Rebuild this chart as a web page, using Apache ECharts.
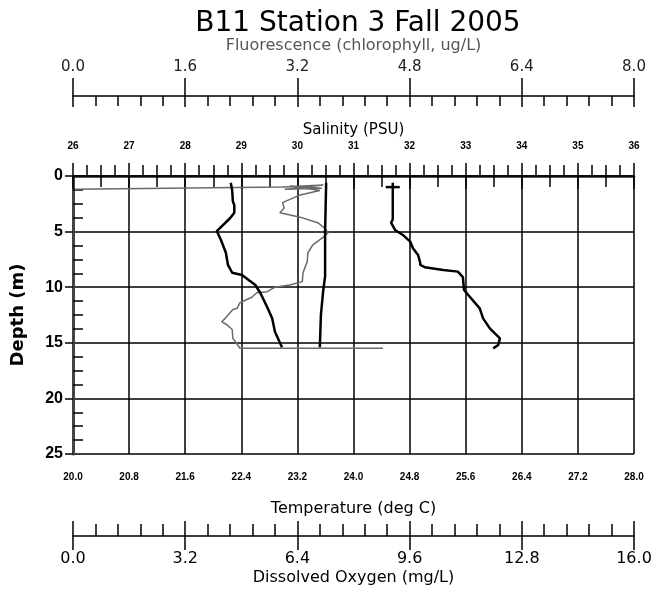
<!DOCTYPE html>
<html>
<head>
<meta charset="utf-8">
<script src="https://cdn.jsdelivr.net/npm/echarts@6/dist/echarts.min.js"></script>
<style>
  html, body { margin: 0; padding: 0; background: #fff; }
  #main { width: 656px; height: 598px; }
</style>
</head>
<body>
<div id="main"></div>
<script>
// profile data, [value, depth m]
var temperature = [
  [22.25, 0.6], [22.27, 1.3], [22.28, 2.3], [22.30, 2.6], [22.30, 3.3], [22.24, 3.8],
  [22.05, 4.95], [22.11, 5.75], [22.18, 6.9], [22.21, 8.0], [22.27, 8.7], [22.41, 8.9],
  [22.60, 9.8], [22.67, 10.5], [22.77, 11.8], [22.84, 12.8], [22.88, 14.0], [22.98, 15.4]
];
var salinity = [
  [31.70, 0.6], [31.70, 1.0], [31.70, 2.5], [31.70, 3.9], [31.67, 4.2], [31.74, 4.85],
  [31.88, 5.3], [32.01, 5.9], [32.06, 6.5], [32.15, 7.1], [32.19, 7.8], [32.19, 8.0],
  [32.27, 8.2], [32.60, 8.45], [32.86, 8.6], [32.95, 9.1], [32.97, 10.25], [33.08, 10.9],
  [33.25, 11.9], [33.31, 12.8], [33.43, 13.7], [33.61, 14.6], [33.58, 15.2], [33.49, 15.5]
];
var fluorescence = [
  [0.03, 1.2], [2.99, 1.0], [3.57, 0.8], [3.02, 1.2], [3.55, 1.1], [3.09, 0.9], [3.52, 1.3],
  [3.24, 1.7], [3.02, 2.3], [2.99, 2.4], [3.01, 2.9], [2.95, 3.3], [3.24, 3.7], [3.49, 4.2],
  [3.59, 4.7], [3.64, 5.1], [3.57, 5.5], [3.42, 6.2], [3.35, 6.9], [3.34, 7.7], [3.28, 8.7],
  [3.27, 9.5], [3.09, 9.8], [2.88, 10.0], [2.77, 10.4], [2.62, 10.5], [2.55, 10.9],
  [2.38, 11.4], [2.34, 11.9], [2.28, 12.0], [2.17, 12.8], [2.12, 13.1], [2.20, 13.4],
  [2.27, 13.8], [2.28, 14.6], [2.35, 15.2], [2.38, 15.5], [4.42, 15.5]
];
var oxygen = [
  [7.22, 0.6], [7.19, 5.0], [7.19, 9.0], [7.13, 10.5], [7.07, 12.5], [7.04, 15.4]
];

var black = '#000';
var font = 'DejaVu Sans';

function fixed1(v) { return v.toFixed(1); }

var myChart = echarts.init(document.getElementById('main'));
myChart.setOption({
  backgroundColor: '#fff',
  animation: false,
  title: {
    text: 'B11 Station 3 Fall 2005',
    left: 353, top: 5, textAlign: 'center',
    textStyle: { fontFamily: font, fontSize: 28, fontWeight: 'normal', color: black }
  },
  grid: { left: 73, right: 22, top: 176, bottom: 144 },
  xAxis: [
    { // 0 temperature
      type: 'value', position: 'bottom', min: 20, max: 28, interval: 0.8,
      name: 'Temperature (deg C)', nameLocation: 'middle', nameGap: 47,
      nameTextStyle: { fontFamily: font, fontSize: 16, color: black },
      axisLine: { lineStyle: { color: '#222', width: 2.5 } },
      axisTick: { length: 13, lineStyle: { color: black, width: 1.5 } },
      axisLabel: { formatter: fixed1, margin: 18, fontFamily: 'Liberation Sans', fontSize: 10, fontWeight: 'bold', color: black },
      splitLine: { show: false }
    },
    { // 1 temperature minor ticks
      type: 'value', position: 'bottom', min: 20, max: 28, interval: 0.8,
      axisLine: { show: false }, axisLabel: { show: false }, splitLine: { show: false },
      axisTick: { show: false, inside: true },
      minorTick: { show: true, splitNumber: 4, length: 11, lineStyle: { color: black, width: 1.5 } }
    },
    { // 2 salinity
      type: 'value', position: 'top', min: 26, max: 36, interval: 1,
      name: 'Salinity (PSU)', nameLocation: 'middle', nameGap: 38,
      nameTextStyle: { fontFamily: font, fontSize: 15, color: black },
      axisLine: { lineStyle: { color: black, width: 1.5 } },
      axisTick: { length: 13, lineStyle: { color: black, width: 1.5 } },
      axisLabel: { margin: 25, fontFamily: 'Liberation Sans', fontSize: 10, fontWeight: 'bold', color: black },
      splitLine: { show: true, lineStyle: { color: black, width: 1.5 } }
    },
    { // 3 salinity minor ticks
      type: 'value', position: 'top', min: 26, max: 36, interval: 1,
      axisLine: { show: false }, axisLabel: { show: false }, splitLine: { show: false },
      axisTick: { show: false, inside: true },
      minorTick: { show: true, splitNumber: 2, length: 11, lineStyle: { color: black, width: 1.5 } }
    },
    { // 4 fluorescence
      type: 'value', position: 'top', offset: 80, min: 0, max: 8, interval: 1.6,
      name: 'Fluorescence (chlorophyll, ug/L)', nameLocation: 'middle', nameGap: 42,
      nameTextStyle: { fontFamily: font, fontSize: 16, color: '#555' },
      axisLine: { lineStyle: { color: black, width: 1.5 } },
      axisTick: { length: 18, lineStyle: { color: black, width: 1.5 } },
      axisLabel: { formatter: fixed1, margin: 21, fontFamily: font, fontSize: 15, color: '#222' },
      splitLine: { show: false }
    },
    { // 5 fluorescence inner ticks
      type: 'value', position: 'top', offset: 80, min: 0, max: 8, interval: 1.6,
      axisLine: { show: false }, axisLabel: { show: false }, splitLine: { show: false },
      axisTick: { show: true, inside: true, length: 11, lineStyle: { color: black, width: 1.5 } },
      minorTick: { show: true, splitNumber: 5, length: 10, lineStyle: { color: black, width: 1.5 } }
    },
    { // 6 dissolved oxygen
      type: 'value', position: 'bottom', offset: 82, min: 0, max: 16, interval: 3.2,
      name: 'Dissolved Oxygen (mg/L)', nameLocation: 'middle', nameGap: 34,
      nameTextStyle: { fontFamily: font, fontSize: 16, color: black },
      axisLine: { lineStyle: { color: black, width: 1.5 } },
      axisTick: { length: 14, lineStyle: { color: black, width: 1.5 } },
      axisLabel: { formatter: fixed1, margin: 15, fontFamily: font, fontSize: 16, color: black },
      splitLine: { show: false }
    },
    { // 7 dissolved oxygen inner ticks
      type: 'value', position: 'bottom', offset: 82, min: 0, max: 16, interval: 3.2,
      axisLine: { show: false }, axisLabel: { show: false }, splitLine: { show: false },
      axisTick: { show: true, inside: true, length: 15, lineStyle: { color: black, width: 1.5 } },
      minorTick: { show: true, splitNumber: 5, length: 12, lineStyle: { color: black, width: 1.5 } }
    }
  ],
  yAxis: [
    { // 0 depth
      type: 'value', inverse: true, min: 0, max: 25, interval: 5, position: 'left',
      name: 'Depth (m)', nameLocation: 'middle', nameGap: 46, nameRotate: 90,
      nameTextStyle: { fontFamily: font, fontSize: 18, fontWeight: 'bold', color: black },
      axisLine: { lineStyle: { color: black, width: 2 } },
      axisTick: { length: 8, lineStyle: { color: black, width: 1.5 } },
      axisLabel: { margin: 10, fontFamily: 'Liberation Sans', fontSize: 16, fontWeight: 'bold', color: black },
      splitLine: { show: true, lineStyle: { color: black, width: 1.5 } }
    },
    { // 1 depth minor ticks
      type: 'value', inverse: true, min: 0, max: 25, interval: 5, position: 'left',
      axisLine: { show: false }, axisLabel: { show: false }, splitLine: { show: false },
      axisTick: { show: false, inside: true },
      minorTick: { show: true, splitNumber: 4, length: 10, lineStyle: { color: black, width: 1.5 } }
    },
    { // 2 right frame
      type: 'value', inverse: true, min: 0, max: 25, interval: 5, position: 'right',
      axisLine: { show: true, lineStyle: { color: '#444', width: 3 } },
      axisTick: { show: false }, axisLabel: { show: false }, splitLine: { show: false }
    }
  ],
  series: [
    {
      name: 'Fluorescence', type: 'line', xAxisIndex: 4, yAxisIndex: 0,
      data: fluorescence, symbol: 'none', z: 3,
      lineStyle: { color: '#6a6a6a', width: 1.5 }
    },
    {
      name: 'Dissolved Oxygen', type: 'line', xAxisIndex: 6, yAxisIndex: 0,
      data: oxygen, symbol: 'none', z: 4,
      lineStyle: { color: black, width: 2.5 }
    },
    {
      name: 'Temperature', type: 'line', xAxisIndex: 0, yAxisIndex: 0,
      data: temperature, symbol: 'none', z: 4,
      lineStyle: { color: black, width: 2.5 }
    },
    {
      name: 'Salinity', type: 'line', xAxisIndex: 2, yAxisIndex: 0,
      data: salinity.map(function (p, i) {
        return i === 1 ? { value: p, symbol: 'rect', symbolSize: [14, 2.5] } : p;
      }),
      symbol: 'none', showSymbol: true, z: 4,
      itemStyle: { color: black },
      lineStyle: { color: black, width: 2.5 }
    }
  ]
});
</script>
</body>
</html>
